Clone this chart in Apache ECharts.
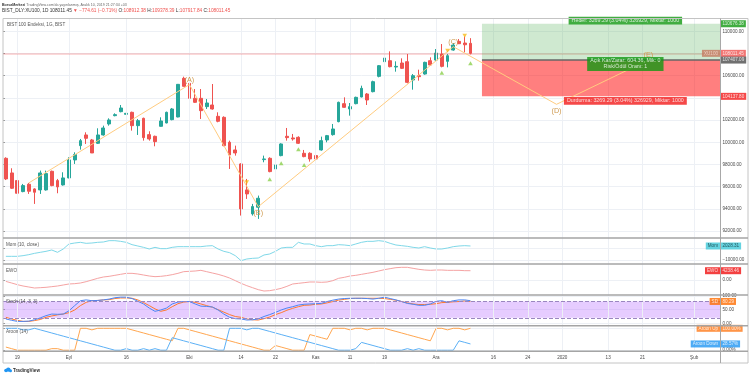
<!DOCTYPE html>
<html><head><meta charset="utf-8">
<script src="https://cdn.jsdelivr.net/npm/echarts@6/dist/echarts.min.js"></script>
<style>html,body{margin:0;padding:0;background:#fff}#c{width:750px;height:377px}</style>
</head><body><div id="c"></div><script>
// ---------- DATA ----------
const holidays = ['2019-08-30', '2019-10-29'];
const firstDay = '2019-08-15', lastDay = '2020-02-07';
const categories = [];
(function () {
  let t = Date.parse(firstDay + 'T00:00:00Z'); const end = Date.parse(lastDay + 'T00:00:00Z');
  while (t <= end) { const d = new Date(t); const wd = d.getUTCDay(); const s = d.toISOString().slice(0, 10);
    if (wd !== 0 && wd !== 6 && holidays.indexOf(s) < 0) categories.push(s); t += 86400000; }
})();
const tickLabels = {'2019-08-19':'19','2019-09-02':'Eyl','2019-09-16':'16','2019-10-01':'Eki','2019-10-14':'14','2019-10-22':'22','2019-11-01':'Kas','2019-11-11':'11','2019-11-19':'19','2019-12-02':'Ara','2019-12-16':'16','2019-12-24':'24','2020-01-01':'2020','2020-01-13':'13','2020-01-21':'21','2020-02-03':'Şub'};

const opens  = [98560,97240,96550,95560,96220,95800,95710,95710,97390,96550,96160,96790,98410,99700,100660,100210,99910,100660,101650,102400,102760,102520,102700,101500,102160,100690,100540,101440,101740,102040,102280,105760,105310,103960,103960,103210,103360,102340,102250,100000,99310,98050,95710,93550,94150,98440,98560,97600,98800,100540,100390,100450,99010,99010,98800,99310,100210,100690,101860,103480,103000,103480,104080,104350,104560,105940,107260,107350,106780,107140,107260,105610,106000,106150,107350,107410,107950,107290,108310,109090,108940,108912.38];
const closes = [96700,95860,95410,96100,95590,95500,97240,97180,96100,95980,96790,98410,98890,100150,100360,99040,100660,101290,102010,102490,103090,102610,101500,101950,100420,100300,100060,101920,102700,103000,105220,105040,103960,103600,102850,103540,103000,101890,99700,98860,99040,94000,95350,94210,94960,98500,97360,97960,99850,100420,100300,99910,98710,98500,98500,100150,100600,101200,103600,103150,103210,104050,104860,103810,105460,106900,107590,106810,106840,106660,105400,106000,105910,107200,106960,108040,106840,107800,108760,108880,108786.06,108011.45];
const lows   = [96600,95800,95200,95500,95350,94450,95350,95650,96040,95410,96100,96760,98050,99340,99850,99040,99850,100600,101500,102340,102700,102250,101050,100660,100150,100150,99640,101410,101710,101980,102250,105040,103240,103540,102100,103000,102940,101800,99640,97600,98800,93400,94900,93400,93100,98200,97300,97450,98740,100150,100150,99850,98650,98260,97750,99250,100000,100600,101800,103120,102400,103420,104050,103360,104500,105850,106690,106750,106360,106600,105310,104740,105550,106090,106900,107350,106750,106750,108250,108850,108100,107917.84];
const highs  = [98650,97660,96700,96250,96340,95860,97450,97450,97450,96700,97300,98650,99100,100300,100900,100300,101260,101500,102160,102610,103360,103360,102760,102100,102220,100990,100600,102250,102760,103090,105250,105910,105400,104800,104800,103900,105250,102700,102340,100150,99700,98110,96700,94450,95200,98800,98650,98350,99910,101290,100750,100540,99310,99100,98860,100510,100660,101650,103660,104050,103540,104110,105100,104440,105550,106960,107920,108190,107290,107560,107950,106150,106540,107260,107650,108400,108850,107950,108940,109300,109540,109378.39];

const mom = [-6850,-6850,-6850,-6280,-5420,-4270,-3400,-2550,-1400,-3400,-550,3750,4600,5180,4320,4600,5180,5470,6610,6610,6040,5180,3170,2030,880,-550,880,-260,-260,880,1460,1460,1460,1460,1460,2030,2310,-550,-2550,-3700,-6280,-10570,-9140,-8570,-8280,-5700,-4840,-2550,310,880,880,5180,3750,3750,2310,1460,2310,2310,3170,2890,2310,3750,5180,6040,6040,6610,6040,4320,2890,2310,1740,880,310,1460,310,-550,-550,310,1460,2030,2310,2028.31];
const ewo = [-640,-1370,-2130,-2740,-3190,-3650,-3500,-3340,-3040,-2740,-2280,-1820,-1670,-1370,-760,0,760,1370,1670,2130,2580,3040,3040,2740,2280,1820,1520,1670,1980,2430,3040,3800,3950,4100,4410,3800,3190,2580,1820,910,-300,-1520,-2580,-3500,-4410,-5020,-4860,-4410,-3800,-2890,-1820,-1520,-1220,-910,-910,-1060,-910,-300,760,1220,1820,2130,2580,3040,3500,4100,4710,5170,5620,5780,5780,5320,4860,4560,4410,4560,4560,4410,4410,4410,4260,4238.46];
const stochK = [16,11,7,7,8,13,20,28,34,33,34,46,65,83,86,83,84,86,89,94,96,96,91,81,71,56,44,49,56,71,78,80,80,71,63,62,60,49,34,22,17,16,12,13,16,25,32,40,49,56,61,67,70,71,72,73,80,85,89,91,92,92,92,91,89,92,96,91,86,80,73,70,66,66,71,81,83,77,83,86,86,83];
const stochD = [22,16,11,7,7,10,14,22,27,31,34,39,49,65,77,83,84,86,87,91,93,93,92,86,76,65,53,44,49,61,72,78,80,77,71,65,59,50,41,32,25,22,16,13,12,17,23,32,39,48,55,61,66,67,70,71,75,80,85,88,91,92,92,92,92,92,91,88,85,80,75,71,69,69,70,72,76,77,79,80,82,80.29];
const aroonUp = [14.29,7.14,0,0,0,0,0,0,7.14,7.14,0,0,0,100,100,92.86,100,100,100,100,100,100,92.86,85.71,78.57,71.43,64.29,57.14,50,42.86,100,100,92.86,85.71,78.57,71.43,64.29,57.14,50,42.86,35.71,28.57,21.43,14.29,7.14,0,0,21.43,14.29,7.14,0,0,0,71.43,64.29,57.14,50,100,100,100,92.86,100,100,92.86,100,100,100,92.86,85.71,78.57,71.43,64.29,57.14,50,42.86,100,100,92.86,100,100,92.86,100];
const aroonDown = [100,100,100,92.86,92.86,100,92.86,85.71,78.57,71.43,64.29,57.14,50,42.86,35.71,28.57,21.43,14.29,7.14,0,0,7.14,0,0,7.14,0,7.14,0,0,57.14,50,42.86,35.71,28.57,21.43,14.29,7.14,0,0,100,100,100,92.86,100,100,92.86,85.71,78.57,71.43,64.29,57.14,50,42.86,35.71,28.57,21.43,14.29,7.14,0,0,0,7.14,35.71,28.57,21.43,14.29,7.14,0,0,0,7.14,0,7.14,0,0,0,0,0,0,42.86,35.71,28.57];

const waveIdx = [4, 32, 44, 78, 96, 112];
const wavePrice = [96340, 105200, 94200, 108610, 103420, 107407.09];
const waveNames = ['', '(A)', '(B)', '(C)', '(D)', '(E)'];
const upIdx = [46, 48, 51, 52, 76, 81];
const upPrice = [96667, 98108, 99369, 97955, 106268, 107115];
const downIdx = [42, 77, 80];
const downPrice = [96397, 108250, 109601];

const posStartIdx = 83, posLabelIdx = 108;
const targetPrice = 110676.38, entryPrice = 107407.09, stopPrice = 104137.80;
const lastPrice = 108011.45;
const posTexts = ['Hedef: 3269.29 (3.04%) 326929, Miktar: 1000', 'Açık Kar/Zarar: 604.36, Mik: 0\nRisk/Ödül Oranı: 1', 'Durdurma: 3269.29 (3.04%) 326929, Miktar: 1000'];
const posTextPrices = [110952, 107052, 103737];

const mainTicks = [92000,94000,96000,98000,100000,102000,104000,106000,108000,110000];
const mainLabels = [92000,94000,96000,98000,100000,102000,106000,110000];

// ---------- CHART ----------
const FONT = '"Liberation Sans", Arial, sans-serif';
const AX = '#4a4a4a', GRIDC = '#edf0f5', FS = 4.6;
const N = 82;
const cat = categories.slice(0, N);
const fmt2 = v => (v < 0 ? '−' : '') + Math.abs(v).toFixed(2);
const vLines = categories.filter(c => tickLabels[c]).map(c => ({ xAxis: c }));
function gridMark(extra) {
  return { silent: true, symbol: ['none', 'none'], label: { show: false }, animation: false,
    lineStyle: { color: GRIDC, width: 1, type: 'solid' }, data: vLines.concat(extra || []) };
}
const grids = [
  { left: 3, right: 30, top: 18.5, height: 219.5 },
  { left: 3, right: 30, top: 238, height: 26 },
  { left: 3, right: 30, top: 264, height: 31 },
  { left: 3, right: 30, top: 295, height: 30.7 },
  { left: 3, right: 30, top: 325.7, height: 25.6 }
];
const xAxes = [];
for (let g = 0; g < 5; g++) xAxes.push({ type: 'category', gridIndex: g, data: categories, boundaryGap: true,
  axisLine: { show: false }, axisTick: { show: false }, splitLine: { show: false },
  axisLabel: g === 4 ? { show: true, interval: (i, v) => !!tickLabels[v], formatter: v => tickLabels[v] || '', fontSize: FS, color: AX, margin: 3.5, fontFamily: FONT } : { show: false } });
for (let g = 0; g < 5; g++) xAxes.push({ type: 'value', gridIndex: g, min: 0, max: 1, show: false });

function yAx(g, min, max, labels, ticks, fmt) {
  return { type: 'value', gridIndex: g, position: 'right', min: min, max: max,
    axisLine: { show: false },
    axisTick: { show: true, length: 2, lineStyle: { color: '#9a9a9a' }, customValues: ticks },
    axisLabel: { show: true, customValues: labels, formatter: fmt, fontSize: FS, color: AX, margin: 2.5, fontFamily: FONT },
    splitLine: { show: true, lineStyle: { color: GRIDC } } };
}
const yAxes = [
  yAx(0, 91380, 111150, mainLabels, mainTicks, fmt2),
  yAx(1, -13434, 8900, [-10000], [-10000, 0], fmt2),
  yAx(2, -6840, 7296, [0], [0], fmt2),
  yAx(3, -8.8, 104, [0, 50, 100], [0, 50, 100], v => v.toFixed(2)),
  yAx(4, -5.0, 111.9, [0], [0, 100], v => v.toFixed(2) + '%')
];

function tagSeries(g, items) {
  const data = [];
  items.forEach(it => {
    data.push({ value: [1, it.v], label: { show: true, position: 'right', distance: 0.5, formatter: it.t,
      backgroundColor: it.bg, color: it.fg || '#fff', fontSize: FS, fontFamily: FONT, padding: [1.3, 2, 0.7, 2] } });
    if (it.name) data.push({ value: [1, it.v], label: { show: true, position: 'left', distance: 0, formatter: it.name,
      backgroundColor: it.nbg || it.bg, color: it.nfg || it.fg || '#fff', fontSize: FS, fontFamily: FONT, padding: [1.3, 2, 0.7, 2] } });
  });
  return { type: 'scatter', xAxisIndex: 5 + g, yAxisIndex: g, symbolSize: 0, clip: false, z: 20, silent: true, data: data };
}

const series = [
  { type: 'custom', xAxisIndex: 0, yAxisIndex: 0, z: 6, silent: true,
    encode: { x: 0, y: [1, 2, 3] },
    data: [[categories[posStartIdx], targetPrice, entryPrice, stopPrice]],
    renderItem: function (params, api) {
      const cs = params.coordSys;
      const pT = api.coord([api.value(0), api.value(1)]);
      const pE = api.coord([api.value(0), api.value(2)]);
      const pS = api.coord([api.value(0), api.value(3)]);
      const x0 = pT[0], x1 = cs.x + cs.width;
      return { type: 'group', children: [
        { type: 'rect', shape: { x: x0, y: pT[1], width: x1 - x0, height: pE[1] - pT[1] }, style: { fill: 'rgba(76,175,80,0.27)' } },
        { type: 'rect', shape: { x: x0, y: pE[1], width: x1 - x0, height: pS[1] - pE[1] }, style: { fill: 'rgba(255,0,0,0.5)' } },
        { type: 'line', shape: { x1: x0, y1: pE[1], x2: x1, y2: pE[1] }, style: { stroke: '#666', lineWidth: 1.5 } }
      ] };
    } },
  { type: 'candlestick', xAxisIndex: 0, yAxisIndex: 0, z: 3, barWidth: '58%',
    data: cat.map((c, i) => [opens[i], closes[i], lows[i], highs[i]]),
    itemStyle: { color: '#26a69a', color0: '#ef5350', borderColor: '#26a69a', borderColor0: '#ef5350', borderWidth: 1 },
    markLine: gridMark([{ yAxis: lastPrice, lineStyle: { color: 'rgba(239,83,80,0.3)', width: 1.5 } }]) },
  { type: 'line', xAxisIndex: 0, yAxisIndex: 0, z: 8, symbol: 'circle', symbolSize: 0, showSymbol: true,
    lineStyle: { color: '#ffcc80', width: 1 }, itemStyle: { color: '#ffcc80' },
    data: waveIdx.map((i, k) => ({ value: [categories[i], wavePrice[k]],
      label: { show: !!waveNames[k], formatter: waveNames[k], position: k % 2 === 1 ? 'top' : 'bottom', distance: k % 2 === 1 ? 1.5 : 3,
        color: '#cf9a4f', fontSize: 7.2, fontFamily: FONT } })) },
  { type: 'scatter', xAxisIndex: 0, yAxisIndex: 0, z: 9, symbol: 'triangle', symbolSize: [4.6, 4],
    itemStyle: { color: '#8ccf4d' }, data: upIdx.map((i, k) => [categories[i], upPrice[k]]) },
  { type: 'scatter', xAxisIndex: 0, yAxisIndex: 0, z: 9, symbol: 'triangle', symbolRotate: 180, symbolSize: [4.6, 4],
    itemStyle: { color: '#f7bb1c' }, data: downIdx.map((i, k) => [categories[i], downPrice[k]]) },
  { type: 'scatter', xAxisIndex: 0, yAxisIndex: 0, z: 15, symbolSize: 0, clip: false, silent: true,
    data: posTexts.map((t, k) => ({ value: [categories[posLabelIdx], posTextPrices[k]],
      label: { show: true, position: 'inside', formatter: t, color: '#fff', fontSize: 5.3, lineHeight: 6, align: 'center',
        fontFamily: FONT, backgroundColor: k === 2 ? '#f21a1a' : '#129912', padding: [1.2, 3, 0.6, 3] } })) },
  { type: 'line', xAxisIndex: 1, yAxisIndex: 1, showSymbol: false, data: mom,
    lineStyle: { color: '#7fd8e8', width: 1 }, markLine: gridMark() },
  { type: 'line', xAxisIndex: 2, yAxisIndex: 2, showSymbol: false, data: ewo,
    lineStyle: { color: '#f5a3a3', width: 1 }, markLine: gridMark() },
  { type: 'line', xAxisIndex: 3, yAxisIndex: 3, showSymbol: false, data: stochK, z: 4,
    lineStyle: { color: '#4c86f5', width: 1 },
    markArea: { silent: true, itemStyle: { color: 'rgba(180,100,255,0.33)' }, data: [[{ yAxis: 80 }, { yAxis: 20 }]] },
    markLine: gridMark([{ yAxis: 80, lineStyle: { color: '#9a86c0', type: 'dashed', width: 1 } }, { yAxis: 20, lineStyle: { color: '#9a86c0', type: 'dashed', width: 1 } }]) },
  { type: 'line', xAxisIndex: 3, yAxisIndex: 3, showSymbol: false, data: stochD, z: 3,
    lineStyle: { color: '#ff7a30', width: 1 } },
  { type: 'line', xAxisIndex: 4, yAxisIndex: 4, showSymbol: false, data: aroonUp,
    lineStyle: { color: '#ffa650', width: 1 }, markLine: gridMark() },
  { type: 'line', xAxisIndex: 4, yAxisIndex: 4, showSymbol: false, data: aroonDown,
    lineStyle: { color: '#5cb0f5', width: 1 } },
  tagSeries(0, [
    { v: targetPrice, t: targetPrice.toFixed(2), bg: '#129912' },
    { v: lastPrice, t: lastPrice.toFixed(2), bg: '#ef5350', name: 'XU100', nbg: '#c47a60', nfg: '#f6dcd2' },
    { v: entryPrice, t: entryPrice.toFixed(2), bg: '#4c4c4c' },
    { v: stopPrice, t: stopPrice.toFixed(2), bg: '#f21a1a' }
  ]),
  tagSeries(1, [{ v: mom[N - 1], t: mom[N - 1].toFixed(2), bg: '#3ec8d8', fg: '#10343a', name: 'Mom' }]),
  tagSeries(2, [{ v: ewo[N - 1], t: ewo[N - 1].toFixed(2), bg: '#f01010', name: 'EWO' }]),
  tagSeries(3, [{ v: stochD[N - 1], t: stochD[N - 1].toFixed(2), bg: '#ff6d00', name: 'SD' }]),
  tagSeries(4, [
    { v: aroonUp[N - 1], t: aroonUp[N - 1].toFixed(2) + '%', bg: '#ff7a1a', name: 'Aroon Up' },
    { v: aroonDown[N - 1], t: aroonDown[N - 1].toFixed(2) + '%', bg: '#2196f3', name: 'Aroon Down' }
  ])
];

const sepYs = [238, 264, 295, 325.7, 351.3];
const graphic = [
  { type: 'rect', shape: { x: 3, y: 18.5, width: 745, height: 344.5 }, style: { fill: 'none', stroke: '#c4c4c4', lineWidth: 1 }, z: 50, silent: true },
  { type: 'line', shape: { x1: 720.5, y1: 18.5, x2: 720.5, y2: 363 }, style: { stroke: '#a8a8a8', lineWidth: 1 }, z: 50, silent: true }
].concat(sepYs.map(y => ({ type: 'line', shape: { x1: 3, y1: y, x2: 748, y2: y }, style: { stroke: '#a5a5a5', lineWidth: 1.4 }, z: 50, silent: true })))
.concat([
  { type: 'text', x: 2, y: 4.5, z: 60, style: { text: '{b|BorsaMerkezi} TradingView.com\'da yayınlanmış, Aralık 10, 2019 21:27:34 +03', fill: '#666', fontSize: 3.6, fontFamily: FONT, verticalAlign: 'middle',
      rich: { b: { fontWeight: 'bold', fill: '#333', fontSize: 3.6, fontFamily: FONT } } } },
  { type: 'text', x: 2, y: 10.6, z: 60, style: { text: '{d|BIST_DLY:XU100, 1D 108011.45 }{r|▼ −774.61 (−0.71%)}{d| O:}{r|108912.38}{d| H:}{r|109378.39}{d| L:}{r|107917.84}{d| C:}{r|108011.45}',
      fontSize: 4.75, fontFamily: FONT, verticalAlign: 'middle',
      rich: { d: { fill: '#333', fontSize: 4.75, fontFamily: FONT }, r: { fill: '#ef5350', fontSize: 4.75, fontFamily: FONT } } } },
  { type: 'text', x: 7, y: 24.3, z: 60, style: { text: 'BIST 100 Endeksi, 1G, BIST', fill: '#555', fontSize: FS, fontFamily: FONT, verticalAlign: 'middle' } },
  { type: 'text', x: 6, y: 244.4, z: 60, style: { text: 'Mom (10, close)', fill: '#555', fontSize: FS, fontFamily: FONT, verticalAlign: 'middle' } },
  { type: 'text', x: 6, y: 270.3, z: 60, style: { text: 'EWO', fill: '#555', fontSize: FS, fontFamily: FONT, verticalAlign: 'middle' } },
  { type: 'text', x: 6, y: 301.5, z: 60, style: { text: 'Stoch (14, 3, 3)', fill: '#555', fontSize: FS, fontFamily: FONT, verticalAlign: 'middle' } },
  { type: 'text', x: 6, y: 332, z: 60, style: { text: 'Aroon (14)', fill: '#555', fontSize: FS, fontFamily: FONT, verticalAlign: 'middle' } },
  { type: 'circle', shape: { cx: 6, cy: 370.5, r: 1.8 }, style: { fill: '#2196f3' }, z: 60 },
  { type: 'circle', shape: { cx: 8.3, cy: 369.6, r: 2.2 }, style: { fill: '#2196f3' }, z: 60 },
  { type: 'circle', shape: { cx: 10.5, cy: 370.8, r: 1.5 }, style: { fill: '#2196f3' }, z: 60 },
  { type: 'text', x: 13, y: 370.3, z: 60, style: { text: 'TradingView', fill: '#333', fontSize: FS, fontWeight: 'bold', fontFamily: FONT, verticalAlign: 'middle' } }
]);

const chart = echarts.init(document.getElementById('c'), null, { renderer: 'canvas', width: 750, height: 377 });
chart.setOption({ animation: false, backgroundColor: '#ffffff', grid: grids, xAxis: xAxes, yAxis: yAxes, series: series, graphic: graphic });
</script></body></html>
